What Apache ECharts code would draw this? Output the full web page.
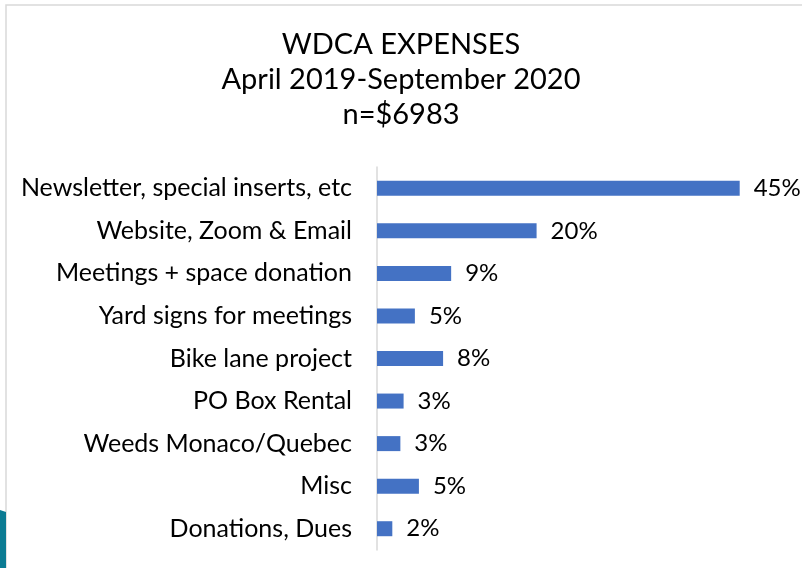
<!DOCTYPE html>
<html>
<head>
<meta charset="utf-8">
<script src="https://cdn.jsdelivr.net/npm/echarts@6/dist/echarts.min.js"></script>
<style>
    html, body { margin: 0; padding: 0; background: #fff; }
    #chart { width: 802px; height: 568px; }
</style>
</head>
<body>
<div id="chart"></div>
<script>
// categories, top to bottom as shown
var categories = [
    'Newsletter, special inserts, etc',
    'Website, Zoom & Email',
    'Meetings + space donation',
    'Yard signs for meetings',
    'Bike lane project',
    'PO Box Rental',
    'Weeds Monaco/Quebec',
    'Misc',
    'Donations, Dues'
];
// share of expenses in percent
var shares = [45, 19.8, 9.2, 4.7, 8.2, 3.3, 2.9, 5.2, 1.9];

var chart = echarts.init(document.getElementById('chart'));
var font = 'Lato';

var option = {
    animation: false,
    title: {
        text: 'WDCA EXPENSES\nApril 2019-September 2020\nn=$6983',
        left: 'center',
        top: 22,
        textStyle: {
            fontFamily: font,
            fontWeight: 'normal',
            fontSize: 29,
            color: '#000',
            lineHeight: 35
        }
    },
    graphic: [
        {
            type: 'rect',
            shape: { x: 6, y: 5, width: 820, height: 600 },
            style: { fill: 'none', stroke: '#d9d9d9', lineWidth: 1.5 },
            silent: true
        },
        {
            type: 'polygon',
            shape: { points: [[0, 510], [6, 512], [6, 568], [0, 568]] },
            style: { fill: '#0b7b93' },
            silent: true
        }
    ],
    grid: {
        left: 377,
        top: 167,
        width: 403,
        height: 383
    },
    xAxis: {
        type: 'value',
        min: 0,
        max: 50,
        show: false
    },
    yAxis: {
        type: 'category',
        inverse: true,
        data: categories,
        axisLine: { show: true, lineStyle: { color: '#d9d9d9', width: 1.5 } },
        axisTick: { show: false },
        axisLabel: {
            margin: 25,
            fontFamily: font,
            fontSize: 25,
            color: '#000'
        }
    },
    series: [{
        type: 'bar',
        data: shares,
        barWidth: 15,
        itemStyle: { color: '#4472c4' },
        label: {
            show: true,
            position: 'right',
            distance: 14,
            fontFamily: font,
            fontSize: 24,
            color: '#000',
            formatter: function (p) { return Math.round(p.value) + '%'; }
        }
    }]
};

chart.setOption(option);
</script>
</body>
</html>
